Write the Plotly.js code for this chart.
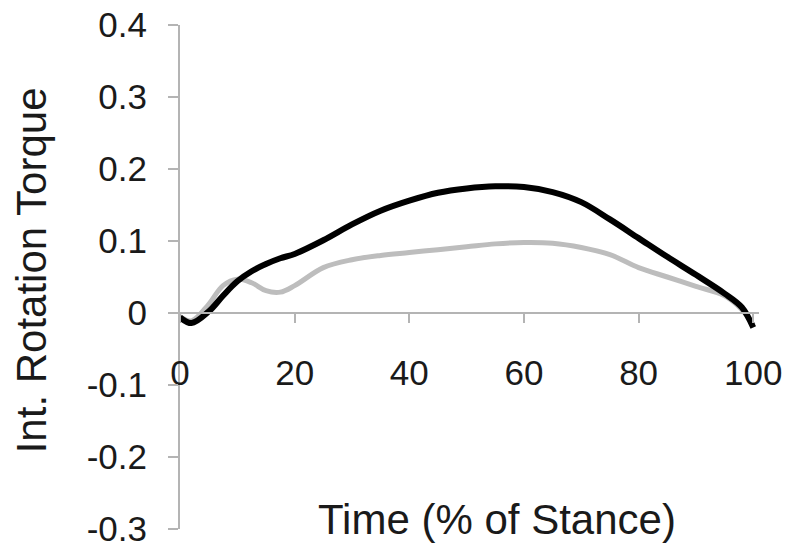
<!DOCTYPE html>
<html>
<head>
<meta charset="utf-8">
<script src="https://cdn.plot.ly/plotly-3.0.1.min.js"></script>
<style>
  html, body { margin: 0; padding: 0; background: #fff; }
  #chart { width: 800px; height: 552px; }
</style>
</head>
<body>
<div id="chart"></div>
<script>
// Time (% of stance) sample points
const stancePct = [0, 2, 5, 7.5, 10, 12.5, 15, 17.5, 20, 25, 30, 35, 40, 45, 50,
                   55, 60, 65, 70, 75, 80, 85, 90, 95, 98, 100];

// black curve
const torqueBlack = [-0.006, -0.014, 0.002, 0.024, 0.044, 0.058, 0.068, 0.076, 0.082,
                     0.101, 0.123, 0.142, 0.156, 0.167, 0.173, 0.176, 0.175, 0.168,
                     0.154, 0.130, 0.104, 0.078, 0.053, 0.027, 0.008, -0.020];

// grey curve
const torqueGrey = [-0.005, -0.011, 0.012, 0.038, 0.047, 0.042, 0.031, 0.029, 0.038,
                    0.063, 0.074, 0.080, 0.084, 0.088, 0.092, 0.096, 0.098, 0.097,
                    0.091, 0.081, 0.063, 0.050, 0.037, 0.024, 0.005, -0.017];

// tick labels
const xTicks = [0, 20, 40, 60, 80, 100];
const yTicks = [-0.3, -0.2, -0.1, 0, 0.1, 0.2, 0.3, 0.4];
const yTickText = ["-0.3", "-0.2", "-0.1", "0", "0.1", "0.2", "0.3", "0.4"];

const FONT = "Liberation Sans, Arial, sans-serif";
const AXIS_GREY = "#b4b4b4";

const traces = [
    {
        x: stancePct,
        y: torqueGrey,
        mode: "lines",
        line: { color: "#bdbdbd", width: 5, shape: "spline", smoothing: 1 },
        hoverinfo: "none",
    },
    {
        x: stancePct,
        y: torqueBlack,
        mode: "lines",
        line: { color: "#000000", width: 6, shape: "spline", smoothing: 1 },
        hoverinfo: "none",
    },
];

// y = 0 sits 3/7 of the way up the plot area
const zeroPos = 0.3 / 0.7;

const layout = {
    width: 800,
    height: 552,
    margin: { l: 180, r: 41, t: 25, b: 23 },
    paper_bgcolor: "#ffffff",
    plot_bgcolor: "#ffffff",
    showlegend: false,
    font: { family: FONT, color: "#1a1a1a" },
    xaxis: {
        range: [0, 101],
        anchor: "free",
        position: zeroPos,
        showline: true,
        linecolor: AXIS_GREY,
        linewidth: 2,
        showgrid: false,
        zeroline: false,
        tickvals: xTicks,
        ticks: "outside",
        ticklen: 9,
        tickwidth: 2,
        tickcolor: AXIS_GREY,
        ticklabelstandoff: 20,
        tickfont: { family: FONT, size: 35, color: "#1a1a1a" },
    },
    yaxis: {
        range: [-0.3, 0.4],
        showline: true,
        linecolor: AXIS_GREY,
        linewidth: 2,
        showgrid: false,
        zeroline: false,
        tickvals: yTicks,
        ticktext: yTickText,
        ticks: "outside",
        ticklen: 10,
        tickwidth: 2,
        tickcolor: AXIS_GREY,
        ticklabelstandoff: 14,
        tickfont: { family: FONT, size: 35, color: "#1a1a1a" },
    },
    annotations: [
        {
            text: "Time (% of Stance)",
            xref: "paper", yref: "paper",
            x: 0.547, y: 0.018,
            xanchor: "center", yanchor: "middle",
            showarrow: false,
            font: { family: FONT, size: 42, color: "#1a1a1a" },
        },
        {
            text: "Int. Rotation Torque",
            xref: "paper", yref: "paper",
            x: -0.255, y: 0.514,
            xanchor: "center", yanchor: "middle",
            textangle: -90,
            showarrow: false,
            font: { family: FONT, size: 42, color: "#1a1a1a" },
        },
    ],
};

Plotly.newPlot("chart", traces, layout, { staticPlot: true });
</script>
</body>
</html>
